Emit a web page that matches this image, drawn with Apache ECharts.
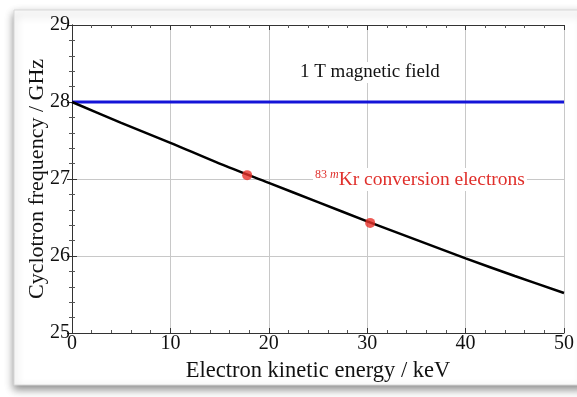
<!DOCTYPE html>
<html>
<head>
<meta charset="utf-8">
<script src="https://cdn.jsdelivr.net/npm/echarts@6/dist/echarts.min.js"></script>
<style>
html, body { margin: 0; padding: 0; background: #fff; }
#main { width: 577px; height: 397px; }
</style>
</head>
<body>
<div id="main"></div>
<script>
// electron kinetic energy (keV) vs cyclotron frequency (GHz)
var energy = [0, 5, 10, 15, 20, 25, 30, 35, 40, 45, 50];
var freq = [28.0, 27.73, 27.47, 27.20, 26.95, 26.70, 26.45, 26.21, 25.97, 25.74, 25.52];
var fieldLine = [[0, 28], [50, 28]];
var krPoints = [[17.8, 27.05], [30.3, 26.43]];
var xTicks = [0, 10, 20, 30, 40, 50];
var yTicks = [25, 26, 27, 28, 29];

var serif = 'Liberation Serif';
var myChart = echarts.init(document.getElementById('main'));

var curve = [];
for (var i = 0; i < energy.length; i++) {
	curve.push([energy[i], freq[i]]);
}

var option = {
	animation : false,
	backgroundColor : '#fff',
	graphic : [
		{
			type : 'rect',
			z : -10,
			shape : { x : 14, y : 10, width : 570, height : 375 },
			style : {
				fill : '#fff',
				stroke : '#d8d8d8',
				lineWidth : 1,
				shadowBlur : 8,
				shadowOffsetY : 4,
				shadowColor : 'rgba(0,0,0,0.45)'
			}
		},
		{
			type : 'text',
			z : 50,
			left : 298,
			top : 62,
			style : {
				text : '1 T magnetic field',
				font : '19px ' + serif,
				fill : '#111',
				backgroundColor : '#fff',
				padding : [1, 2]
			}
		},
		{
			type : 'text',
			z : 50,
			left : 313,
			top : 168,
			style : {
				text : '{s|83 }{m|m}{n|Kr conversion electrons}',
				backgroundColor : '#fff',
				padding : [1, 2],
				rich : {
					s : { fontFamily : serif, fontSize : 12, fill : '#e0302c', verticalAlign : 'top', padding : [0, 0, 9, 0] },
					m : { fontFamily : serif, fontSize : 12, fontStyle : 'italic', fill : '#e0302c', verticalAlign : 'top', padding : [0, 0, 9, 0] },
					n : { fontFamily : serif, fontSize : 19.5, fill : '#e0302c' }
				}
			}
		}
	],
	grid : {
		left : 72,
		right : 9,
		top : 25,
		bottom : 64,
		show : false
	},
	xAxis : [
		{
			type : 'value',
			min : 0,
			max : 50,
			interval : 10,
			name : 'Electron kinetic energy / keV',
			nameLocation : 'middle',
			nameGap : 27,
			nameTextStyle : { fontFamily : serif, fontSize : 22.5, color : '#111' },
			axisLine : { show : true, lineStyle : { color : '#333', width : 1 } },
			axisTick : { show : true, inside : true, length : 5, lineStyle : { color : '#333' } },
			minorTick : { show : true, splitNumber : 5, length : 3, lineStyle : { color : '#555' } },
			axisLabel : {
				fontFamily : serif, fontSize : 20, color : '#111', margin : 1,
				formatter : function (v) { return xTicks.indexOf(v) >= 0 ? String(v) : ''; }
			},
			splitLine : { show : true, lineStyle : { color : '#c8c8c8', width : 1 } }
		},
		{
			type : 'value',
			position : 'top',
			min : 0,
			max : 50,
			interval : 10,
			axisLine : { show : true, lineStyle : { color : '#333', width : 1 } },
			axisTick : { show : true, inside : true, length : 5, lineStyle : { color : '#333' } },
			minorTick : { show : true, splitNumber : 5, length : 3, lineStyle : { color : '#555' } },
			axisLabel : { show : false },
			splitLine : { show : false }
		}
	],
	yAxis : [
		{
			type : 'value',
			min : 25,
			max : 29,
			interval : 1,
			name : 'Cyclotron frequency / GHz',
			nameLocation : 'middle',
			nameGap : 24,
			nameMoveOverlap : false,
			nameTextStyle : { fontFamily : serif, fontSize : 22, color : '#111' },
			axisLine : { show : true, lineStyle : { color : '#333', width : 1 } },
			axisTick : { show : true, inside : true, length : 5, lineStyle : { color : '#333' } },
			minorTick : { show : true, splitNumber : 5, length : 3, lineStyle : { color : '#555' } },
			axisLabel : {
				fontFamily : serif, fontSize : 20, color : '#111', margin : 2,
				formatter : function (v) { return yTicks.indexOf(v) >= 0 ? String(v) : ''; }
			},
			splitLine : { show : true, lineStyle : { color : '#c8c8c8', width : 1 } }
		},
		{
			type : 'value',
			position : 'right',
			min : 25,
			max : 29,
			interval : 1,
			axisLine : { show : true, lineStyle : { color : '#333', width : 1 } },
			axisTick : { show : true, inside : true, length : 5, lineStyle : { color : '#333' } },
			minorTick : { show : true, splitNumber : 5, length : 3, lineStyle : { color : '#555' } },
			axisLabel : { show : false },
			splitLine : { show : false }
		}
	],
	series : [
		{
			name : 'field',
			type : 'line',
			data : fieldLine,
			symbol : 'none',
			lineStyle : { color : '#1414d8', width : 3 },
			z : 3
		},
		{
			name : 'cyclotron',
			type : 'line',
			data : curve,
			smooth : 0.3,
			symbol : 'none',
			lineStyle : { color : '#000', width : 2.5 },
			z : 4
		},
		{
			name : 'Kr',
			type : 'scatter',
			data : krPoints,
			symbolSize : 10,
			itemStyle : { color : '#e8322a' },
			z : 5
		}
	]
};
myChart.setOption(option);
</script>
</body>
</html>
